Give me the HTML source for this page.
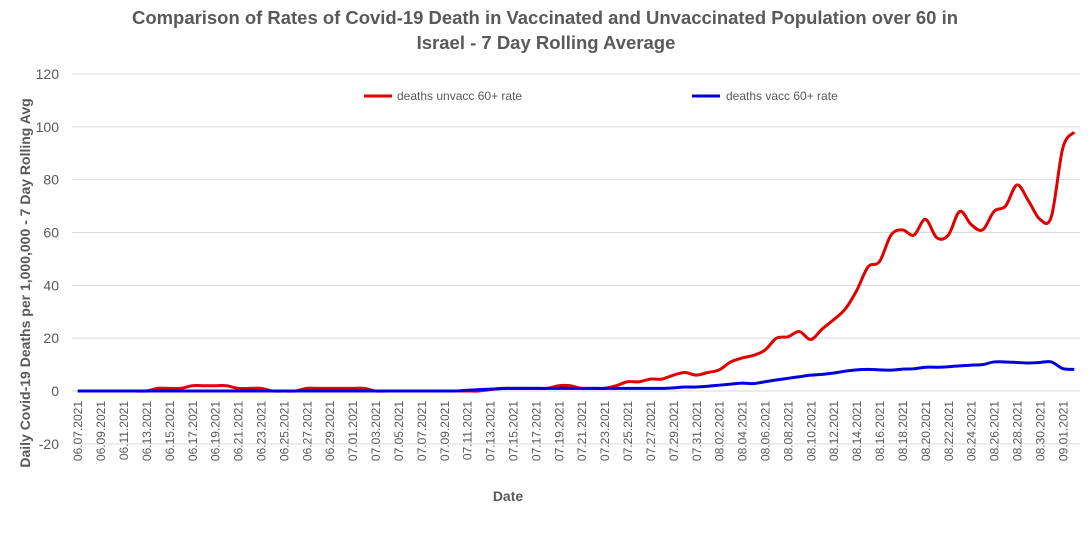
<!DOCTYPE html>
<html><head><meta charset="utf-8"><style>
body{margin:0;background:#fff;}
svg text{font-family:"Liberation Sans",Arial,sans-serif;}
</style></head><body>
<svg id="chart" width="1092" height="531" viewBox="0 0 1092 531" xmlns="http://www.w3.org/2000/svg">
<text x="545" y="24" text-anchor="middle" font-size="18.5" font-weight="bold" fill="#595959" textLength="826" lengthAdjust="spacingAndGlyphs">Comparison of Rates of Covid-19 Death in Vaccinated and Unvaccinated Population over 60 in</text>
<text x="546" y="49" text-anchor="middle" font-size="18.5" font-weight="bold" fill="#595959">Israel - 7 Day Rolling Average</text>
<g id="grid"></g>
<g id="yticks"></g>
<g id="xticks"></g>
<g id="series"></g>
<text transform="translate(30,283) rotate(-90)" text-anchor="middle" font-size="14" font-weight="bold" fill="#595959">Daily Covid-19 Deaths per 1,000,000 - 7 Day Rolling Avg</text>
<text x="508" y="501" text-anchor="middle" font-size="14" font-weight="bold" fill="#595959">Date</text>
<g>
<g><line x1="364" y1="96" x2="392" y2="96" stroke="#e00000" stroke-width="3"/><text x="397" y="100" font-size="12" fill="#595959">deaths unvacc 60+ rate</text></g>
<g><line x1="692" y1="96" x2="720" y2="96" stroke="#0000dd" stroke-width="3"/><text x="726" y="100" font-size="12" fill="#595959">deaths vacc 60+ rate</text></g>
</g>
</svg>
<script>
const yTicks=[-20,0,20,40,60,80,100,120];
const unvacc=[0,0,0,0,0,0,0, 1,1,1, 2,2,2,2, 1,1,1, 0,0,0, 1,1,1,1,
1,1, 0,0,0,0,0,0,0,0,0,0, 0.5, 1,1,1,1,1, 2,2, 1,1,1, 2,3.5,3.5,4.5,4.5,6,7,6,
7,8,11,12.5,13.5,15.5,20,20.5,22.5,19.5,23.5,27,31,38,47,49,59,61,59,65,58,59,68,63,61,68,70,78,72,65,66,
92,98];
const vacc=[0,0,0,0,0,0,0,0,0,0,0,0,0,0,0,0,0,0,0,0,0,0,0,0,
0,0,0,0,0,0,0,0,0,0,0.3,0.5,0.7,0.9,1,1,1,1,1,1,1,1,1,1,1,1,1,1,1.2,1.5,1.5,
1.8,2.2,2.6,3,2.8,3.5,4.2,4.8,5.4,6,6.3,6.8,7.5,8,8.2,8,7.9,8.3,8.4,9,9,9.2,9.5,9.8,10,11,11,10.8,10.6,10.8,11,
8.5,8.2];
function dateLabel(i){const d=new Date(2021,5,7+i);const m=String(d.getMonth()+1).padStart(2,'0');const dd=String(d.getDate()).padStart(2,'0');return m+'.'+dd+'.2021';}
const NS='http://www.w3.org/2000/svg';
const X0=72,X1=1080,N=unvacc.length;
const step=(X1-X0)/N;
function xs(i){return X0+(i+0.5)*step;}
function ys(v){return 391-v*(317/120);}
const grid=document.getElementById('grid'),yt=document.getElementById('yticks'),xt=document.getElementById('xticks'),ser=document.getElementById('series');
function mk(t,a,p){const e=document.createElementNS(NS,t);for(const k in a)e.setAttribute(k,a[k]);p.appendChild(e);return e;}
yTicks.forEach(v=>{
const l=mk('line',{x1:X0,x2:X1,y1:ys(v),y2:ys(v),stroke:'#d9d9d9','stroke-width':1},grid);


const t=mk('text',{x:59,y:ys(v)+5,'text-anchor':'end','font-size':14,fill:'#595959'},yt);
t.textContent=v;


});
for(let i=0;i<N;i+=2){
const x=xs(i);
const t=mk('text',{transform:'translate('+(x+4.5)+',401) rotate(-90)','text-anchor':'end','font-size':12,fill:'#595959'},xt);
t.textContent=dateLabel(i);


}
function smooth(vals){
const p=vals.map((v,i)=>[xs(i),ys(v)]);
let d='M'+p[0][0]+','+p[0][1];
for(let i=0;i<p.length-1;i++){
const p0=p[Math.max(i-1,0)],p1=p[i],p2=p[i+1],p3=p[Math.min(i+2,p.length-1)];
const c1=[p1[0]+(p2[0]-p0[0])/6,p1[1]+(p2[1]-p0[1])/6];
const c2=[p2[0]-(p3[0]-p1[0])/6,p2[1]-(p3[1]-p1[1])/6];
d+=' C'+c1+' '+c2+' '+p2;
}
return d;}
const r=mk('path',{d:smooth(unvacc),fill:'none',stroke:'#e00000','stroke-width':3,'stroke-linejoin':'round'},ser);


const b=mk('path',{d:smooth(vacc),fill:'none',stroke:'#0000dd','stroke-width':3,'stroke-linejoin':'round'},ser);


</script>
</body></html>
